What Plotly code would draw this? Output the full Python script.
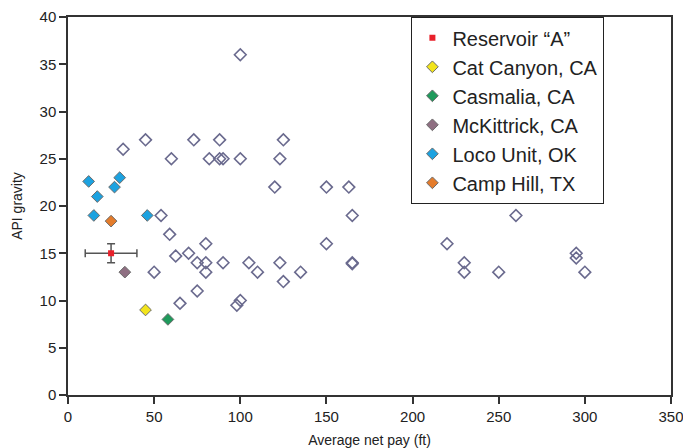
import plotly.graph_objects as go

# Other reservoirs (open diamonds, not in legend)
other_pay = [100, 32, 45, 60, 73, 82, 88, 88, 90, 100, 120, 123, 125, 150, 163, 165, 260,
             54, 59, 62.5, 70, 75, 80, 80, 80, 90, 50, 75, 65, 98, 100, 105, 110, 123, 125,
             135, 150, 165, 165, 220, 230, 230, 250, 295, 295, 300]
other_api = [36, 26, 27, 25, 27, 25, 27, 25, 25, 25, 22, 25, 27, 22, 22, 19, 19,
             19, 17, 14.7, 15, 14, 16, 14, 13, 14, 13, 11, 9.7, 9.5, 10, 14, 13, 14, 12,
             13, 16, 14, 13.9, 16, 14, 13, 13, 15, 14.5, 13]

# Named series
res_pay = [25]
res_api = [15]
res_pay_err = [15]
res_api_err = [1]

cat_pay = [45]
cat_api = [9]
cas_pay = [58]
cas_api = [8]
mck_pay = [33]
mck_api = [13]
loco_pay = [12, 17, 27, 30, 15, 46]
loco_api = [22.6, 21, 22, 23, 19, 19]
camp_pay = [25]
camp_api = [18.4]

x_ticks = [0, 50, 100, 150, 200, 250, 300, 350]
y_ticks = [0, 5, 10, 15, 20, 25, 30, 35, 40]

FONT = "Liberation Sans, Arial, sans-serif"
edge = dict(color="#6b6b6b", width=1)
dsize = 9

fig = go.Figure()
fig.add_trace(go.Scatter(x=other_pay, y=other_api, mode="markers", showlegend=False,
                         marker=dict(symbol="diamond-open", size=dsize,
                                     color="#6a6a8e", line=dict(width=1.6, color="#6a6a8e"))))
fig.add_trace(go.Scatter(x=res_pay, y=res_api, mode="markers", name="Reservoir “A”",
                         marker=dict(symbol="square", size=6, color="#e8202a"),
                         error_x=dict(type="data", array=res_pay_err, color="#555555",
                                      thickness=1.5, width=4),
                         error_y=dict(type="data", array=res_api_err, color="#555555",
                                      thickness=1.5, width=4)))
fig.add_trace(go.Scatter(x=cat_pay, y=cat_api, mode="markers", name="Cat Canyon, CA",
                         marker=dict(symbol="diamond", size=dsize, color="#f2e41c", line=edge)))
fig.add_trace(go.Scatter(x=cas_pay, y=cas_api, mode="markers", name="Casmalia, CA",
                         marker=dict(symbol="diamond", size=dsize, color="#1f9a5c", line=edge)))
fig.add_trace(go.Scatter(x=mck_pay, y=mck_api, mode="markers", name="McKittrick, CA",
                         marker=dict(symbol="diamond", size=dsize, color="#8f6f82", line=edge)))
fig.add_trace(go.Scatter(x=loco_pay, y=loco_api, mode="markers", name="Loco Unit, OK",
                         marker=dict(symbol="diamond", size=dsize, color="#1ca2e0", line=edge)))
fig.add_trace(go.Scatter(x=camp_pay, y=camp_api, mode="markers", name="Camp Hill, TX",
                         marker=dict(symbol="diamond", size=dsize, color="#e47c2c", line=edge)))

axis_common = dict(showgrid=False, zeroline=False, showline=True, linecolor="#333333",
                   linewidth=1.5, mirror=True, ticks="outside", ticklen=7,
                   tickcolor="#333333", tickwidth=1.5, automargin=False,
                   ticklabeloverflow="allow",
                   tickfont=dict(family=FONT, size=15, color="#222222"))

fig.update_layout(
    width=683, height=448,
    margin=dict(l=68, r=12, t=17, b=53, autoexpand=False),
    paper_bgcolor="white", plot_bgcolor="white",
    font=dict(family=FONT, color="#222222"),
    xaxis=dict(range=[0, 350], tickvals=x_ticks,
               title=dict(text="Average net pay (ft)", font=dict(family=FONT, size=14), standoff=12),
               **axis_common),
    yaxis=dict(range=[0, 40], tickvals=y_ticks,
               title=dict(text="API gravity", font=dict(family=FONT, size=14), standoff=14),
               **axis_common),
    legend=dict(x=0.569, y=1.0, xanchor="left", yanchor="top",
                bgcolor="white", bordercolor="#222222", borderwidth=1.3,
                font=dict(family=FONT, size=20, color="#222222"),
                itemwidth=30, tracegroupgap=0),
)

fig.write_html("out.html", config={"displayModeBar": False},
               post_script="document.body.style.margin='0';document.body.style.overflow='hidden';")
